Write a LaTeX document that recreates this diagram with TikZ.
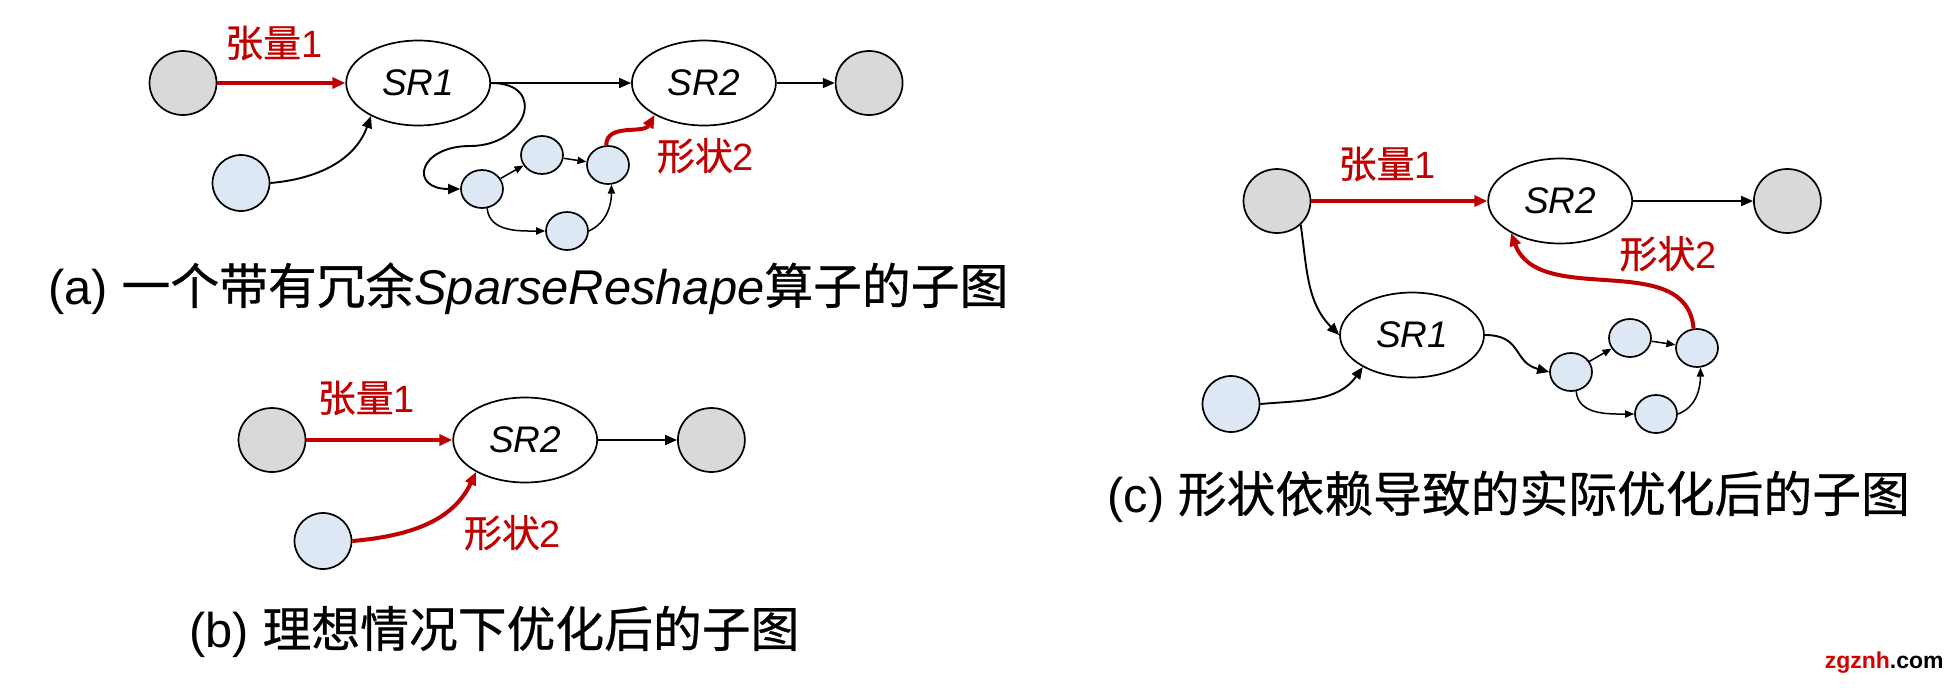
\documentclass[tikz,border=0pt]{standalone}
\usepackage{fontspec}
\setmainfont{Liberation Sans}
\newfontfamily\cjk[FakeBold=0.6]{Noto Sans CJK SC}
\usepackage{xcolor}
\usepackage{tikz}
\usetikzlibrary{shapes.geometric, arrows.meta, positioning}
\definecolor{tred}{RGB}{192,0,0}
\definecolor{wred}{RGB}{210,0,0}
\definecolor{tgray}{RGB}{217,217,217}
\definecolor{tblue}{RGB}{221,232,244}

\begin{document}
\begin{tikzpicture}[
  x=0.5pt, y=0.5pt,
  op/.style={draw, ellipse, line width=0.85pt, minimum width=72pt, minimum height=42.5pt, inner sep=0pt, font=\fontsize{18.5}{22}\selectfont\itshape},
  io/.style={draw, ellipse, line width=0.85pt, fill=tgray, minimum width=33.5pt, minimum height=32pt, inner sep=0pt},
  sh/.style={draw, ellipse, line width=0.85pt, fill=tblue, minimum width=28.5pt, minimum height=28pt, inner sep=0pt},
  sm/.style={draw, ellipse, line width=0.85pt, fill=tblue, minimum width=21pt, minimum height=19pt, inner sep=0pt},
  ar/.style={-{Triangle[length=6pt, width=5pt]}, line width=0.95pt},
  sar/.style={-{Triangle[length=4.5pt, width=3.6pt]}, line width=0.75pt},
  rar/.style={-{Triangle[length=6.5pt, width=5.5pt]}, line width=2pt, tred},
  lbl/.style={text=tred, font=\fontsize{19}{22}\selectfont, inner sep=0pt},
  captext/.style={font=\fontsize{24.4}{28}\selectfont, inner sep=0pt, anchor=base west}
]
\useasboundingbox (0,0) rectangle (1956,-687);

\node[io] (inA) at (183,-83) {};
\node[op, right=64pt of inA] (sr1A) {SR1};
\node[op, right=70pt of sr1A] (sr2A) {SR2};
\node[io, right=29pt of sr2A] (outA) {};
\node[sh] (blA) at (241,-183) {};
\node[sm] (n1A) at (482,-189) {};
\node[sm] (n2A) at (542,-155) {};
\node[sm] (n3A) at (608,-165) {};
\node[sm] (n4A) at (567,-231) {};
\coordinate (bendA) at (470,-146);
\draw[rar] (inA) -- node[lbl, anchor=base, pos=0.44, yshift=13pt] (tenA) {{\cjk 张量}1} (sr1A);
\draw[ar] (sr1A) -- (sr2A);
\draw[ar] (sr2A) -- (outA);
\draw[ar] (blA.east) to[out=5, in=-110] (sr1A.215);
\draw[ar] (sr1A.east) to[out=0, in=0, looseness=2.2] (bendA) to[out=180, in=180, looseness=3] (n1A.west);
\draw[sar] (n1A) -- (n2A);
\draw[sar] (n2A) -- (n3A);
\draw[sar] (n1A.-75) to[out=-85, in=180] (n4A.west);
\draw[sar] (n4A.east) to[out=25, in=-90] (n3A.-80);
\draw[rar] (n3A.95) to[out=90, in=-120] (sr2A.213);
\node[lbl, anchor=base west] (shpA) at (656.5,-170) {{\cjk 形状}2};
\node[captext] (capA) at (48,-304) {(a) {\cjk 一个带有冗余}\textit{SparseReshape}{\cjk 算子的子图}};

\node[io] (inB) at (272,-440) {};
\node[op, right=73pt of inB] (sr2B) {SR2};
\node[io, right=39.5pt of sr2B] (outB) {};
\node[sh] (blB) at (323,-541) {};
\draw[rar] (inB) -- node[lbl, anchor=base, pos=0.41, yshift=14pt] (tenB) {{\cjk 张量}1} (sr2B);
\draw[ar] (sr2B) -- (outB);
\draw[rar] (blB.east) to[out=5, in=-115] (sr2B.213);
\node[lbl, anchor=base west] (shpB) at (463.5,-547) {{\cjk 形状}2};
\node[captext] (capB) at (189,-647) {(b) {\cjk 理想情况下优化后的子图}};

\node[io] (inC) at (1277,-201) {};
\node[op, right=88pt of inC] (sr2C) {SR2};
\node[io, right=60pt of sr2C] (outC) {};
\node[op] (sr1C) at (1412,-335) {SR1};
\node[sh] (blC) at (1231,-404) {};
\node[sm] (n1C) at (1571,-372) {};
\node[sm] (n2C) at (1630,-338) {};
\node[sm] (n3C) at (1697,-348) {};
\node[sm] (n4C) at (1656,-414) {};
\draw[rar] (inC) -- node[lbl, anchor=base, pos=0.43, yshift=11.5pt] (tenC) {{\cjk 张量}1} (sr2C);
\draw[ar] (sr2C) -- (outC);
\draw[ar] (inC.-45) to[out=-82, in=135] (sr1C.west);
\draw[ar] (blC.east) to[out=5, in=-125] (sr1C.213);
\draw[ar] (sr1C.east) to[out=0, in=165, looseness=1.3] (n1C.west);
\draw[sar] (n1C) -- (n2C);
\draw[sar] (n2C) -- (n3C);
\draw[sar] (n1C.-75) to[out=-85, in=180] (n4C.west);
\draw[sar] (n4C.east) to[out=20, in=-90] (n3C.-80);
\draw[rar] (n3C.100) to[out=95, in=-70] (sr2C.213);
\node[lbl, anchor=base west] (shpC) at (1619,-268) {{\cjk 形状}2};
\node[captext] (capC) at (1107,-512) {(c) {\cjk 形状依赖导致的实际优化后的子图}};

\node[anchor=base east, inner sep=0pt, font=\fontsize{11.5}{14}\selectfont\bfseries] (mark) at (1944,-668) {\textcolor{wred}{zgznh}.com};
\end{tikzpicture}
\end{document}
